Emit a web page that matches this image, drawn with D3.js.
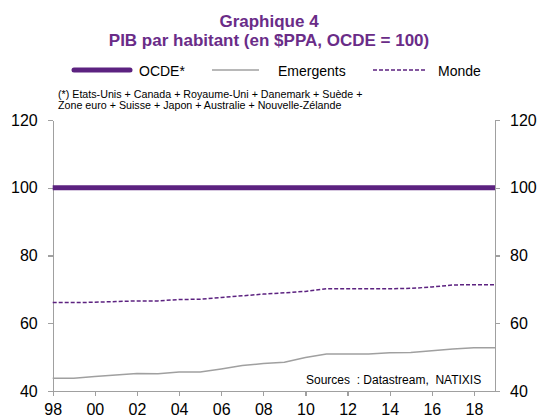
<!doctype html>
<html>
    <head>
        <style>
            body {margin:0; background:#fff}
            svg {width:539px; height:416px; font-family:Arial, "Liberation Sans", sans-serif}
            .axis path, .axis line {fill:none; stroke:#a0a0a0; stroke-width:1.3; shape-rendering:crispEdges}
            .axis text {fill:#000; font-size:16px}
        </style>
        <script src="https://d3js.org/d3.v7.min.js"></script>
    </head>
    <body>
        <script>
            // data
            var years = [1998,1999,2000,2001,2002,2003,2004,2005,2006,2007,2008,2009,2010,2011,2012,2013,2014,2015,2016,2017,2018,2019];
            var ocde = [100,100,100,100,100,100,100,100,100,100,100,100,100,100,100,100,100,100,100,100,100,100];
            var emergents = [43.8,43.8,44.3,44.7,45.2,45.1,45.6,45.6,46.5,47.5,48.1,48.5,49.9,50.9,50.9,50.9,51.3,51.4,51.9,52.4,52.8,52.8];
            var monde = [66.1,66.1,66.2,66.4,66.6,66.6,67.0,67.1,67.6,68.1,68.6,69.0,69.4,70.2,70.2,70.2,70.2,70.3,70.7,71.3,71.4,71.4];
            var yTicks = [40,60,80,100,120];
            var xTicks = [1998,2000,2002,2004,2006,2008,2010,2012,2014,2016,2018];

            var purple = "#5c2280";
            var grey = "#a0a0a0";

            // plot area
            var plotL = 52.7, plotR = 495, plotT = 120, plotB = 391;

            var svg = d3.select("body").append("svg");

            var x = d3.scaleLinear().domain([1998,2019]).range([plotL,plotR]);
            var y = d3.scaleLinear().domain([40,120]).range([plotB,plotT]);

            // titles
            svg.append("text").attr("x",269).attr("y",27).attr("text-anchor","middle")
                .attr("font-size",17).attr("font-weight","bold").attr("fill","#6a2c88")
                .text("Graphique 4");
            svg.append("text").attr("x",269).attr("y",46).attr("text-anchor","middle")
                .attr("font-size",17).attr("font-weight","bold").attr("fill","#6a2c88")
                .text("PIB par habitant (en $PPA, OCDE = 100)");

            // legend
            var lg = svg.append("g");
            lg.append("line").attr("x1",74).attr("x2",130).attr("y1",70).attr("y2",70)
                .attr("stroke",purple).attr("stroke-width",5).attr("stroke-linecap","round");
            lg.append("text").attr("x",139).attr("y",76).attr("font-size",14).text("OCDE*");
            lg.append("line").attr("x1",212).attr("x2",259).attr("y1",70).attr("y2",70)
                .attr("stroke",grey).attr("stroke-width",1.5);
            lg.append("text").attr("x",278).attr("y",76).attr("font-size",14).text("Emergents");
            lg.append("line").attr("x1",373).attr("x2",426).attr("y1",70).attr("y2",70)
                .attr("stroke",purple).attr("stroke-width",1.5).attr("stroke-dasharray","4,2");
            lg.append("text").attr("x",438).attr("y",76).attr("font-size",14).text("Monde");

            // footnote
            svg.append("text").attr("x",58).attr("y",98).attr("font-size",10.7)
                .text("(*) Etats-Unis + Canada + Royaume-Uni + Danemark + Suède +");
            svg.append("text").attr("x",58).attr("y",109).attr("font-size",10.7)
                .text("Zone euro + Suisse + Japon + Australie + Nouvelle-Zélande");

            // axes
            svg.append("g").attr("class","axis").attr("transform","translate("+plotL+",0)")
                .call(d3.axisLeft(y).tickValues(yTicks).tickSize(5).tickPadding(10).tickSizeOuter(0));
            svg.append("g").attr("class","axis").attr("transform","translate("+plotR+",0)")
                .call(d3.axisRight(y).tickValues(yTicks).tickSize(5).tickPadding(10).tickSizeOuter(0));
            svg.append("g").attr("class","axis").attr("transform","translate(0,"+plotB+")")
                .call(d3.axisBottom(x).tickValues(xTicks).tickSize(5).tickPadding(8).tickSizeOuter(0)
                    .tickFormat(function(d){return String(d).slice(2)}));

            // lines
            function draw(vals, color, width, dash) {
                var line = d3.line()
                    .x(function(d,i){return x(years[i])})
                    .y(function(d){return y(d)});
                svg.append("path").datum(vals)
                    .attr("d",line)
                    .attr("fill","none")
                    .attr("stroke",color)
                    .attr("stroke-width",width)
                    .attr("stroke-dasharray",dash);
            }
            draw(emergents, grey, 1.5, null);
            draw(monde, purple, 1.5, "4,2");
            draw(ocde, purple, 5, null);

            // source
            svg.append("text").attr("x",306).attr("y",384).attr("font-size",12)
                .style("white-space","pre")
                .text("Sources  : Datastream,  NATIXIS");
        </script>
    </body>
</html>
